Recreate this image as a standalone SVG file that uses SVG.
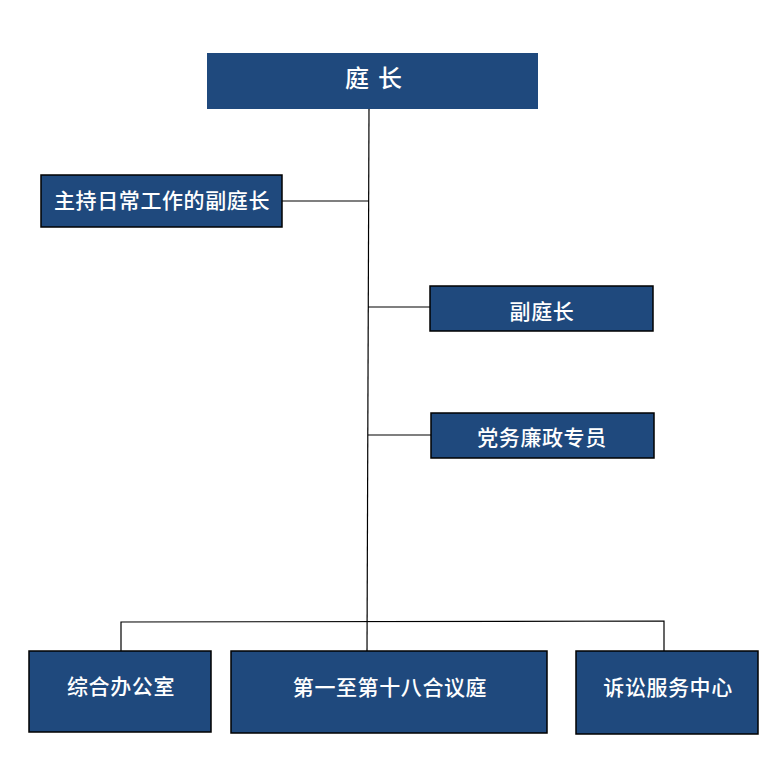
<svg xmlns="http://www.w3.org/2000/svg" width="784" height="761" viewBox="0 0 784 761">
<style>
.box{fill:#1F497D;stroke:#000;stroke-width:1.5}
.top{fill:#1F497D}
.t{fill:#fff;font-family:"Liberation Serif","Noto Sans CJK SC",serif;font-size:21px;font-weight:500;text-anchor:middle;dominant-baseline:central;letter-spacing:0.6px}
.c{stroke:#000;stroke-width:1.2;fill:none}
</style>
<rect width="784" height="761" fill="#fff"/>
<g id="connectors">
<line class="c" x1="369" y1="109" x2="367" y2="651"/>
<line class="c" x1="282" y1="201" x2="369" y2="201"/>
<line class="c" x1="368" y1="307" x2="430" y2="307"/>
<line class="c" x1="368" y1="435" x2="431" y2="435"/>
<polyline class="c" points="121,651 121,622 664,621 664,651"/>
</g>
<g id="n-tingzhang">
<rect class="top" x="207" y="53" width="331" height="56"/>
<text class="t" x="378" y="79" style="font-size:24px;letter-spacing:9px">庭长</text>
</g>
<g id="n-changwu">
<rect class="box" x="41" y="175" width="241" height="52"/>
<text class="t" x="162" y="201">主持日常工作的副庭长</text>
</g>
<g id="n-futingzhang">
<rect class="box" x="430" y="286" width="223" height="45"/>
<text class="t" x="542" y="312">副庭长</text>
</g>
<g id="n-dangwu">
<rect class="box" x="431" y="413" width="223" height="45"/>
<text class="t" x="542" y="438">党务廉政专员</text>
</g>
<g id="n-zonghe">
<rect class="box" x="29" y="651" width="182" height="81"/>
<text class="t" x="121" y="687">综合办公室</text>
</g>
<g id="n-heyiting">
<rect class="box" x="231" y="651" width="316" height="82"/>
<text class="t" x="390" y="688">第一至第十八合议庭</text>
</g>
<g id="n-susong">
<rect class="box" x="576" y="651" width="182" height="83"/>
<text class="t" x="668" y="688">诉讼服务中心</text>
</g>
</svg>
